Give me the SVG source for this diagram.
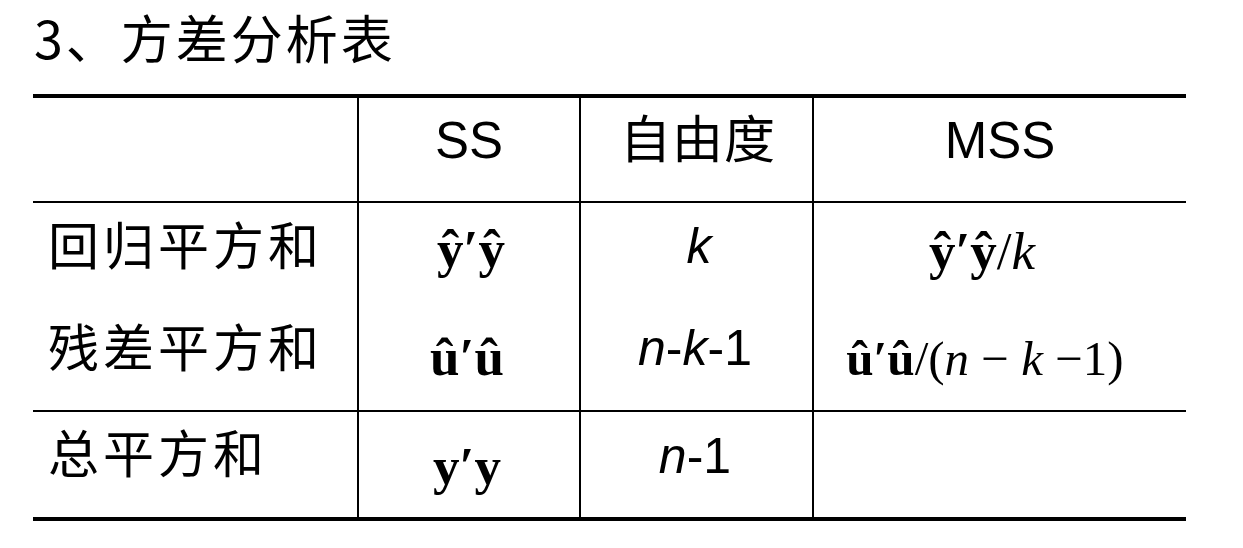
<svg xmlns="http://www.w3.org/2000/svg" width="1243" height="548" viewBox="0 0 1243 548">
<style>
.title{font-family:"Noto Sans CJK SC","Noto Sans",sans-serif;font-size:52px;fill:#000}
.cjk{font-family:"Noto Sans CJK SC",sans-serif;font-size:51px;fill:#000}
.hd{font-family:"Liberation Sans",Arial,sans-serif;font-size:51px;fill:#000}
.sans{font-family:"Liberation Sans",Arial,sans-serif;font-size:50px;fill:#000}
.math{font-family:"Liberation Serif","Times New Roman",serif;font-size:53px;fill:#000}
.math.sm{font-size:49px}
.b{font-weight:bold}
.i{font-style:italic}
.thick{stroke:#000;stroke-width:4}
.thin{stroke:#000;stroke-width:2}
</style>
<rect width="1243" height="548" fill="#fff"/>
<text class="title" x="34" y="59" letter-spacing="3">3、方差分析表</text>
<g id="rules">
<line class="thick" x1="33" y1="96" x2="1186" y2="96"/>
<line class="thin" x1="33" y1="202" x2="1186" y2="202"/>
<line class="thin" x1="33" y1="411" x2="1186" y2="411"/>
<line class="thick" x1="33" y1="519" x2="1186" y2="519"/>
<line class="thin" x1="358" y1="96" x2="358" y2="519"/>
<line class="thin" x1="580" y1="96" x2="580" y2="519"/>
<line class="thin" x1="813" y1="96" x2="813" y2="519"/>
</g>
<g id="header">
<text class="hd" x="469" y="158" text-anchor="middle">SS</text>
<text class="cjk" x="698" y="158" text-anchor="middle" letter-spacing="1">自由度</text>
<text class="hd" x="1000" y="158" text-anchor="middle">MSS</text>
</g>
<g id="row-regression">
<text class="cjk" x="48" y="265" letter-spacing="4">回归平方和</text>
<text class="math b" x="471" y="267" text-anchor="middle">ŷ′ŷ</text>
<text class="sans i" x="699" y="263" text-anchor="middle">k</text>
<text class="math" x="982" y="269" text-anchor="middle"><tspan class="b">ŷ′ŷ</tspan>/<tspan class="i">k</tspan></text>
</g>
<g id="row-residual">
<text class="cjk" x="48" y="367" letter-spacing="4">残差平方和</text>
<text class="math b" x="467" y="375" text-anchor="middle">û′û</text>
<text class="sans" x="695" y="365" text-anchor="middle"><tspan class="i">n</tspan>-<tspan class="i">k</tspan>-1</text>
<text class="math sm" x="985" y="375" text-anchor="middle"><tspan class="b">û′û</tspan>/(<tspan class="i">n</tspan> − <tspan class="i">k</tspan> −1)</text>
</g>
<g id="row-total">
<text class="cjk" x="48" y="473" letter-spacing="4">总平方和</text>
<text class="math b" x="467" y="484" text-anchor="middle">y′y</text>
<text class="sans" x="695" y="473" text-anchor="middle"><tspan class="i">n</tspan>-1</text>
</g>
</svg>
